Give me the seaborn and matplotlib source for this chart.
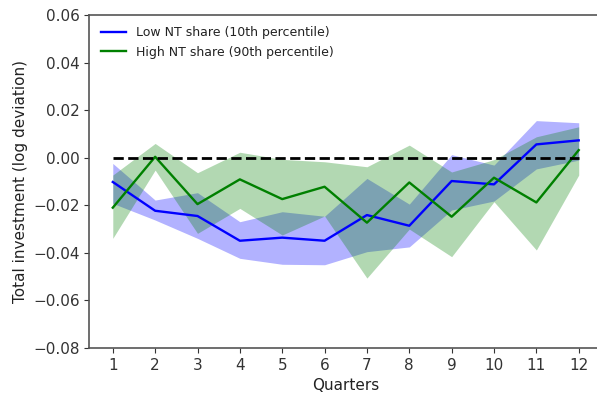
import numpy as np
import pandas as pd
import seaborn as sns
import matplotlib
matplotlib.use("Agg")
import matplotlib.pyplot as plt

# values
quarters = [1, 2, 3, 4, 5, 6, 7, 8, 9, 10, 11, 12]

low_mean = [-0.0102, -0.0223, -0.0245, -0.0349, -0.0336, -0.0349,
            -0.0241, -0.0286, -0.0098, -0.0112, 0.0056, 0.0073]
low_lo = [-0.0192, -0.0262, -0.0339, -0.0423, -0.0448, -0.0450,
          -0.0395, -0.0375, -0.0220, -0.0182, -0.0047, -0.0010]
low_hi = [-0.0024, -0.0178, -0.0147, -0.0269, -0.0227, -0.0246,
          -0.0087, -0.0195, 0.0013, -0.0031, 0.0156, 0.0147]

high_mean = [-0.0210, 0.0004, -0.0195, -0.0091, -0.0174, -0.0122,
             -0.0273, -0.0104, -0.0248, -0.0084, -0.0188, 0.0032]
high_lo = [-0.0339, -0.0052, -0.0318, -0.0213, -0.0325, -0.0245,
           -0.0506, -0.0300, -0.0416, -0.0185, -0.0388, -0.0073]
high_hi = [-0.0073, 0.0060, -0.0063, 0.0023, -0.0007, -0.0017,
           -0.0038, 0.0053, -0.0060, -0.0008, 0.0088, 0.0130]

df = pd.DataFrame({'quarter': quarters,
                   'low': low_mean, 'high': high_mean})

fig = plt.figure(figsize=(5.97, 3.98), dpi=100)
ax = fig.add_axes([0.1499, 0.1256, 0.8585, 0.8367])

# bands first (blue under green)
ax.fill_between(quarters, low_lo, low_hi, color='blue', alpha=0.3, linewidth=0)
ax.fill_between(quarters, high_lo, high_hi, color='green', alpha=0.3, linewidth=0)

sns.lineplot(data=df, x='quarter', y='low', color='blue', linewidth=1.7,
             label='Low NT share (10th percentile)', ax=ax)
sns.lineplot(data=df, x='quarter', y='high', color='green', linewidth=1.7,
             label='High NT share (90th percentile)', ax=ax)

ax.plot([quarters[0], quarters[-1]], [0, 0], color='black', linestyle='--', linewidth=2)

ax.set_xlim(0.45, 12.55)
ax.set_ylim(-0.08, 0.06)
ax.set_xticks(quarters)
ax.set_yticks(np.arange(-0.08, 0.061, 0.02))
ax.tick_params(labelsize=11, colors='#333333')
ax.set_xlabel('Quarters', fontsize=11, color='#222222')
ax.set_ylabel('Total investment (log deviation)', fontsize=11, color='#222222')
for side in ['top', 'right', 'left', 'bottom']:
    ax.spines[side].set_visible(True)
    ax.spines[side].set_color('#555555')
    ax.spines[side].set_linewidth(1.2)
leg = ax.legend(loc='upper left', frameon=False, fontsize=9)
for t in leg.get_texts():
    t.set_color('#222222')

fig.savefig('out.png', dpi=100)
